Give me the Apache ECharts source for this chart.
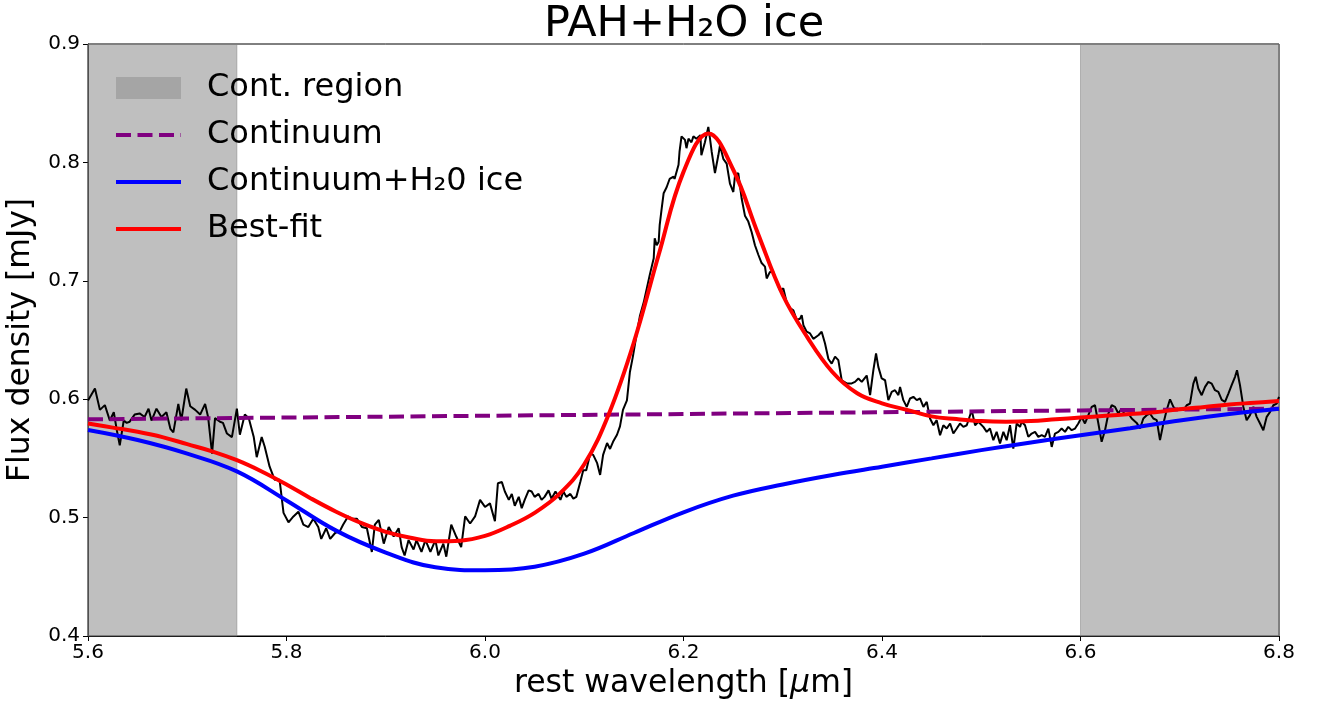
<!DOCTYPE html>
<html>
<head>
<meta charset="utf-8">
<script src="https://cdn.jsdelivr.net/npm/echarts@6/dist/echarts.min.js"></script>
<style>
  html, body { margin: 0; padding: 0; background: #fff; }
  #chart { width: 1326px; height: 704px; }
</style>
</head>
<body>
<div id="chart"></div>
<script>
// Wavelength ranges used to fit the continuum [µm]
const contRegions = [[5.6, 5.75], [6.6, 6.8]];

// Axis limits and tick steps
const xRange = [5.6, 6.8], xStep = 0.2;
const yRange = [0.4, 0.9], yStep = 0.1;

// Continuum fit [µm, mJy]
const continuum = [
  [5.6, 0.5830], [5.8, 0.5845], [6.0, 0.5860], [6.2, 0.5875],
  [6.4, 0.5890], [6.6, 0.5905], [6.8, 0.5920]
];

// Continuum absorbed by H2O ice [µm, mJy]
const iceModel = [
  [5.60, 0.574], [5.65, 0.5655], [5.70, 0.554], [5.75, 0.539], [5.80, 0.5145],
  [5.85, 0.489], [5.90, 0.4705], [5.95, 0.458], [6.00, 0.4555], [6.05, 0.4585],
  [6.10, 0.4695], [6.15, 0.487], [6.20, 0.5045], [6.25, 0.5185], [6.30, 0.528],
  [6.35, 0.536], [6.40, 0.543], [6.45, 0.550], [6.50, 0.557], [6.55, 0.5635],
  [6.60, 0.5696], [6.65, 0.5755], [6.70, 0.582], [6.75, 0.5875], [6.80, 0.592]
];

// Best-fit model: continuum + ice + 6.2 µm PAH feature [µm, mJy]
const bestFit = [
  [5.600, 0.5795], [5.625, 0.576], [5.650, 0.5725], [5.675, 0.568], [5.700, 0.562],
  [5.725, 0.556], [5.750, 0.5485], [5.775, 0.539], [5.800, 0.528], [5.825, 0.516],
  [5.850, 0.505], [5.875, 0.4955], [5.900, 0.488], [5.925, 0.483], [5.950, 0.480],
  [5.975, 0.4805], [6.000, 0.4845], [6.025, 0.493], [6.050, 0.504], [6.075, 0.520],
  [6.100, 0.545], [6.125, 0.588], [6.150, 0.648], [6.175, 0.722], [6.200, 0.792],
  [6.225, 0.8245], [6.250, 0.794], [6.275, 0.740], [6.300, 0.688], [6.325, 0.652],
  [6.350, 0.623], [6.375, 0.605], [6.400, 0.5965], [6.425, 0.591], [6.450, 0.5855],
  [6.475, 0.5832], [6.500, 0.5815], [6.525, 0.581], [6.550, 0.5815], [6.575, 0.583],
  [6.600, 0.5845], [6.625, 0.586], [6.650, 0.5875], [6.675, 0.589], [6.700, 0.5915],
  [6.725, 0.5935], [6.750, 0.5955], [6.775, 0.597], [6.800, 0.5985]
];

// Observed spectrum [µm, mJy]
const observed = [
  [5.600,0.599],[5.607,0.609],[5.612,0.591],[5.617,0.595],[5.622,0.582],[5.626,0.589],
  [5.629,0.574],[5.632,0.561],[5.636,0.582],[5.639,0.580],[5.642,0.581],[5.647,0.587],
  [5.652,0.588],[5.657,0.585],[5.661,0.592],[5.664,0.582],[5.669,0.592],[5.674,0.585],
  [5.679,0.589],[5.683,0.575],[5.686,0.572],[5.691,0.596],[5.694,0.582],[5.699,0.609],
  [5.703,0.594],[5.708,0.591],[5.713,0.587],[5.718,0.596],[5.721,0.585],[5.725,0.554],
  [5.728,0.584],[5.733,0.581],[5.736,0.580],[5.740,0.571],[5.745,0.568],[5.750,0.592],
  [5.753,0.570],[5.758,0.587],[5.762,0.584],[5.767,0.568],[5.770,0.551],[5.775,0.568],
  [5.778,0.560],[5.783,0.543],[5.788,0.532],[5.793,0.532],[5.797,0.504],[5.802,0.496],
  [5.807,0.501],[5.812,0.505],[5.817,0.494],[5.822,0.492],[5.827,0.499],[5.832,0.492],
  [5.835,0.482],[5.840,0.491],[5.844,0.482],[5.849,0.487],[5.854,0.489],[5.857,0.494],
  [5.862,0.501],[5.866,0.499],[5.871,0.499],[5.876,0.492],[5.881,0.491],[5.886,0.471],
  [5.889,0.494],[5.893,0.498],[5.898,0.478],[5.903,0.492],[5.908,0.484],[5.913,0.491],
  [5.916,0.475],[5.919,0.468],[5.923,0.481],[5.928,0.473],[5.931,0.481],[5.936,0.471],
  [5.940,0.481],[5.945,0.471],[5.950,0.481],[5.953,0.468],[5.958,0.478],[5.961,0.467],
  [5.966,0.494],[5.971,0.484],[5.976,0.475],[5.980,0.501],[5.985,0.495],[5.990,0.501],
  [5.995,0.515],[6.000,0.509],[6.005,0.512],[6.010,0.497],[6.013,0.529],
  [6.017,0.530],[6.020,0.522],[6.024,0.515],[6.027,0.520],[6.030,0.510],[6.034,0.5175],
  [6.037,0.508],[6.040,0.515],[6.044,0.523],[6.047,0.522],[6.050,0.5175],[6.054,0.520],
  [6.057,0.515],[6.060,0.5175],[6.064,0.523],[6.067,0.516],[6.071,0.522],[6.076,0.515],
  [6.079,0.522],[6.082,0.5175],[6.086,0.520],[6.089,0.516],[6.092,0.5175],[6.096,0.530],
  [6.099,0.540],[6.102,0.540],[6.106,0.554],[6.109,0.553],[6.113,0.546],[6.116,0.536],
  [6.119,0.553],[6.123,0.563],[6.126,0.558],[6.129,0.564],[6.133,0.570],[6.136,0.577],
  [6.139,0.591],[6.143,0.599],[6.146,0.623],[6.149,0.636],[6.153,0.656],
  [6.156,0.670],[6.160,0.682],[6.166,0.705],[6.170,0.719],[6.171,0.736],[6.173,0.730],
  [6.175,0.733],[6.176,0.747],[6.178,0.761],[6.180,0.774],[6.183,0.779],[6.186,0.786],
  [6.190,0.788],[6.191,0.786],[6.195,0.798],[6.196,0.809],[6.198,0.822],[6.2015,0.819],
  [6.203,0.812],[6.205,0.820],[6.208,0.817],[6.210,0.822],[6.213,0.820],[6.217,0.823],
  [6.218,0.806],[6.220,0.805],[6.2216,0.817],[6.225,0.830],[6.2267,0.820],[6.2284,0.809],
  [6.2317,0.791],[6.2351,0.806],[6.2368,0.8145],[6.2401,0.803],[6.2435,0.799],[6.2468,0.782],
  [6.2502,0.775],[6.2519,0.789],[6.2552,0.791],[6.2586,0.7695],[6.2619,0.755],[6.2653,0.750],
  [6.2687,0.741],[6.272,0.730],[6.2754,0.722],[6.2787,0.715],[6.2821,0.712],[6.2838,0.702],
  [6.2871,0.7075],[6.2905,0.7075],[6.2938,0.699],[6.2972,0.692],[6.3006,0.6935],[6.3039,0.682],
  [6.3073,0.677],
  [6.3107,0.675],[6.314,0.667],[6.3174,0.668],[6.3191,0.671],[6.3208,0.6625],[6.3241,0.657],
  [6.3275,0.6555],[6.3308,0.651],[6.3359,0.654],[6.3392,0.657],[6.3426,0.647],[6.346,0.634],
  [6.3493,0.630],[6.3527,0.636],[6.356,0.633],[6.3594,0.616],[6.3644,0.6133],[6.3695,0.6133],
  [6.3728,0.6146],[6.3762,0.6175],[6.3796,0.6146],[6.3846,0.620],[6.388,0.6034],[6.3913,0.6245],
  [6.394,0.6386],[6.3963,0.6273],[6.3997,0.6175],[6.4031,0.616],[6.4064,0.5992],[6.4098,0.6062],
  [6.4131,0.6076],[6.4165,0.6034],[6.4182,0.6104],[6.4215,0.5992],[6.4249,0.5935],[6.4283,0.6006],
  [6.4316,0.602],[6.435,0.5992],[6.4383,0.6006],[6.4417,0.5935],[6.4451,0.5977],[6.4484,0.5837],
  [6.4518,0.578],[6.4551,0.5823],[6.4585,0.5696],[6.4618,0.578],[6.4652,0.5752],[6.4686,0.5795],
  [6.4719,0.571],[6.4753,0.5752],[6.4786,0.5795],[6.482,0.5766],[6.4854,0.578],[6.4904,0.5907],
  [6.4938,0.578],[6.4971,0.5809],
  [6.5021,0.5766],[6.5055,0.5724],[6.5088,0.5752],[6.5122,0.5654],[6.5155,0.5724],[6.5189,0.5626],
  [6.5223,0.5724],[6.5256,0.5654],[6.529,0.578],[6.5323,0.5583],[6.5357,0.5795],[6.5391,0.5766],
  [6.5407,0.5809],[6.5441,0.578],[6.5474,0.5682],[6.5508,0.571],[6.5542,0.5724],[6.5575,0.5682],
  [6.5609,0.5696],[6.5642,0.5682],[6.5676,0.5752],[6.571,0.5597],[6.5743,0.571],[6.5777,0.5724],
  [6.581,0.5752],[6.5844,0.5724],[6.5877,0.5766],[6.5911,0.5738],[6.5945,0.5752],[6.5978,0.5795],
  [6.6012,0.585],[6.6045,0.5795],[6.6079,0.5865],[6.6113,0.5935],[6.6146,0.5949],[6.618,0.5795],
  [6.6213,0.564],[6.6247,0.5738],[6.6281,0.5879],[6.6314,0.5949],[6.6348,0.5935],[6.6381,0.5879],
  [6.6415,0.5921],[6.6448,0.5865],[6.6482,0.5879],[6.6516,0.5837],
  [6.6566,0.580],[6.66,0.5752],[6.6633,0.5837],[6.6667,0.5865],[6.67,0.5879],[6.6734,0.5837],
  [6.6768,0.5823],[6.6801,0.5654],[6.6835,0.5795],[6.6868,0.5907],[6.6902,0.5999],[6.6936,0.5935],
  [6.6969,0.5907],[6.7003,0.5921],[6.7036,0.5907],[6.707,0.5949],[6.7103,0.5963],[6.7137,0.6132],
  [6.7161,0.6189],[6.7187,0.609],[6.7221,0.6034],[6.7255,0.6104],[6.7288,0.6146],[6.7322,0.6132],
  [6.7355,0.6076],[6.7389,0.6062],[6.7423,0.5994],[6.7456,0.5977],[6.749,0.6048],[6.7523,0.6118],
  [6.7557,0.6189],[6.7577,0.6245],[6.7607,0.6118],[6.7641,0.5935],[6.7674,0.5823],[6.7708,0.5865],
  [6.7742,0.5935],[6.7775,0.5851],[6.7809,0.5795],[6.7842,0.5738],[6.7876,0.5851],[6.791,0.5893],
  [6.7943,0.5949],[6.7977,0.5963],[6.8,0.602]
];

const FONT = 'DejaVu Sans';
const GREY = 'rgba(128,128,128,0.5)';

const chart = echarts.init(document.getElementById('chart'), null, { renderer: 'canvas' });

// Legend entries for the model lines: a plain line, no marker in the middle
const lineEntry = (name, color, dash) => ({
  name,
  itemStyle: { opacity: 0 },
  lineStyle: { color, width: 4, type: dash || 'solid' }
});

chart.setOption({
  animation: false,
  backgroundColor: '#ffffff',
  title: {
    text: 'PAH+H₂O ice',
    left: 544,
    top: 3,
    padding: 0,
    textStyle: { fontFamily: FONT, fontSize: 43, fontWeight: 'normal', color: '#000' }
  },
  legend: {
    orient: 'vertical',
    left: 109,
    top: 67,
    itemWidth: 65,
    itemHeight: 22,
    itemGap: 15,
    selectedMode: false,
    textStyle: {
      fontFamily: FONT, fontSize: 32, color: '#000', lineHeight: 32,
      padding: [0, 0, 0, 21]
    },
    data: [
      { name: 'Cont. region', icon: 'rect', itemStyle: { color: GREY } },
      lineEntry('Continuum', '#800080', [15, 6.5]),
      lineEntry('Continuum+H₂0 ice', '#0000ff'),
      lineEntry('Best-fit', '#ff0000')
    ]
  },
  grid: {
    left: 88, right: 47, top: 44, bottom: 68,
    outerBoundsMode: 'none',
    containLabel: false,
    show: true, borderColor: '#000', borderWidth: 1, backgroundColor: 'transparent'
  },
  xAxis: {
    type: 'value',
    min: xRange[0], max: xRange[1], interval: xStep,
    name: 'rest wavelength [{i|μ}m]',
    nameLocation: 'middle',
    nameGap: 31,
    nameTextStyle: {
      fontFamily: FONT, fontSize: 31.5, color: '#000',
      rich: { i: { fontFamily: FONT, fontSize: 31.5, fontStyle: 'italic', color: '#000' } }
    },
    axisLine: { show: true, lineStyle: { color: '#000', width: 1 } },
    axisTick: { show: true, inside: false, length: 5, lineStyle: { color: '#000', width: 1 } },
    axisLabel: {
      fontFamily: FONT, fontSize: 20, color: '#000', margin: 7,
      formatter: v => v.toFixed(1)
    },
    splitLine: { show: false }
  },
  yAxis: {
    type: 'value',
    min: yRange[0], max: yRange[1], interval: yStep,
    name: 'Flux density [mJy]',
    nameLocation: 'middle',
    nameGap: 37,
    nameTextStyle: { fontFamily: FONT, fontSize: 31.5, color: '#000' },
    axisLine: { show: true, lineStyle: { color: '#000', width: 1 } },
    axisTick: { show: true, inside: false, length: 5, lineStyle: { color: '#000', width: 1 } },
    axisLabel: {
      fontFamily: FONT, fontSize: 20, color: '#000', margin: 8,
      formatter: v => v.toFixed(1)
    },
    splitLine: { show: false }
  },
  series: [
    {
      name: 'Cont. region',
      type: 'scatter',
      data: [],
      itemStyle: { color: GREY },
      z: 1,
      markArea: {
        silent: true,
        itemStyle: { color: GREY, borderColor: GREY, borderWidth: 1 },
        data: contRegions.map(r => [{ xAxis: r[0] }, { xAxis: r[1] }])
      }
    },
    {
      name: 'Observed',
      type: 'line',
      data: observed,
      showSymbol: false,
      symbol: 'none',
      lineStyle: { color: '#000', width: 2 },
      itemStyle: { color: '#000' },
      z: 2
    },
    {
      name: 'Continuum',
      type: 'line',
      data: continuum,
      symbol: 'none',
      lineStyle: { color: '#800080', width: 4, type: [15, 6.5] },
      itemStyle: { color: '#800080' },
      z: 3
    },
    {
      name: 'Continuum+H₂0 ice',
      type: 'line',
      data: iceModel,
      symbol: 'none',
      smooth: 0.4,
      lineStyle: { color: '#0000ff', width: 4 },
      itemStyle: { color: '#0000ff' },
      z: 4
    },
    {
      name: 'Best-fit',
      type: 'line',
      data: bestFit,
      symbol: 'none',
      smooth: 0.4,
      lineStyle: { color: '#ff0000', width: 4 },
      itemStyle: { color: '#ff0000' },
      z: 5
    }
  ]
});
</script>
</body>
</html>
